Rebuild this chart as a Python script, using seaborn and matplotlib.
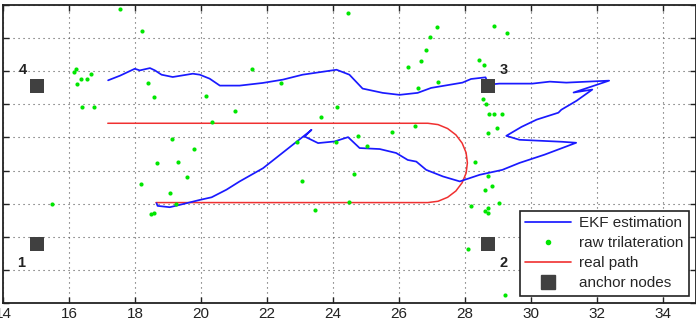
import numpy as np
import pandas as pd
import matplotlib
matplotlib.use("Agg")
import matplotlib.pyplot as plt
import seaborn as sns
from matplotlib.lines import Line2D

# ---------------- data ----------------
ekf_x = [18.65, 18.68, 19.05, 19.35, 19.96, 20.32, 20.77, 21.17, 21.88, 23.29,
         23.35, 23.14, 23.55, 24.05, 24.46, 24.81, 25.42, 25.92, 26.27, 26.53,
         26.83, 27.34, 27.85, 28.45, 29.14, 29.66, 30.42, 31.38, 30.95, 29.66,
         29.26, 29.72, 30.18, 30.84, 30.93, 31.39, 31.87, 31.30, 32.38, 31.08,
         30.58, 30.05, 29.05, 28.72, 28.63, 28.19, 27.93, 26.98, 26.57, 26.02,
         25.51, 24.90, 24.50, 24.11, 23.08, 22.48, 21.87, 21.17, 20.57, 20.26,
         19.96, 19.75, 19.14, 18.80, 18.60, 18.45, 18.14, 17.99, 17.54, 17.18]
ekf_y = [3.01, 2.93, 2.89, 2.96, 3.11, 3.19, 3.42, 3.67, 4.07, 5.18,
         5.23, 5.03, 4.83, 4.88, 5.01, 4.68, 4.65, 4.53, 4.32, 4.27,
         4.02, 3.82, 3.67, 3.87, 4.02, 4.23, 4.48, 4.84, 4.87, 4.93,
         5.05, 5.32, 5.54, 5.75, 5.84, 6.11, 6.45, 6.36, 6.72, 6.66,
         6.69, 6.63, 6.63, 6.60, 6.82, 6.77, 6.66, 6.50, 6.35, 6.29,
         6.35, 6.48, 6.90, 7.05, 6.90, 6.75, 6.65, 6.57, 6.57, 6.78,
         6.90, 6.93, 6.83, 6.90, 7.03, 7.10, 7.03, 7.08, 6.87, 6.73]

raw_x = [17.54, 18.20, 16.22, 16.15, 16.66, 16.35, 16.53, 16.25, 18.38, 18.57,
         20.14, 16.39, 16.75, 21.02, 20.32, 19.11, 19.78, 18.66, 19.29, 19.57,
         18.19, 19.07, 19.23, 18.48, 18.57, 15.48, 24.45, 21.54, 22.42, 24.11,
         23.65, 26.50, 25.78, 24.75, 25.02, 22.90, 24.10, 23.07, 24.63, 24.48,
         23.45, 27.16, 26.96, 26.81, 26.68, 26.29, 26.57, 27.20, 28.90, 29.28,
         28.42, 28.57, 28.54, 28.63, 28.75, 28.90, 29.14, 28.99, 28.69, 28.32,
         28.72, 28.84, 28.60, 29.05, 28.20, 28.72, 28.60, 28.72, 28.11, 29.23]
raw_y = [8.90, 8.23, 7.08, 6.99, 6.92, 6.78, 6.76, 6.63, 6.66, 6.22,
         6.26, 5.92, 5.92, 5.81, 5.48, 4.96, 4.66, 4.23, 4.26, 3.81,
         3.60, 3.32, 2.99, 2.69, 2.72, 2.98, 8.78, 7.08, 6.66, 5.93,
         5.63, 5.36, 5.17, 5.05, 4.75, 4.85, 4.87, 3.69, 3.88, 3.05,
         2.81, 8.35, 8.03, 7.66, 7.32, 7.12, 6.51, 6.67, 8.36, 8.16,
         7.35, 7.18, 6.17, 6.02, 5.72, 5.72, 5.72, 5.29, 5.14, 4.26,
         3.84, 3.54, 3.42, 3.02, 2.93, 2.87, 2.78, 2.72, 1.63, 0.23]

# real path: along the bottom, around the right end, back along the top
real_x = [18.63, 26.88, 27.19, 27.48, 27.73, 27.92, 28.04, 28.08, 28.04, 27.92,
          27.73, 27.48, 27.19, 26.88, 17.17]
real_y = [3.03, 3.03, 3.07, 3.19, 3.38, 3.63, 3.92, 4.23, 4.54, 4.83,
          5.08, 5.27, 5.39, 5.43, 5.43]

anchor_x = [15.01, 28.69, 28.69, 15.01]
anchor_y = [1.77, 1.77, 6.57, 6.57]
anchor_labels = ["1", "2", "3", "4"]
label_x = [14.55, 29.19, 29.19, 14.6]
label_y = [1.2, 1.2, 7.05, 7.05]

legend_labels = ["EKF estimation", "raw trilateration", "real path", "anchor nodes"]
x_ticks = [14, 16, 18, 20, 22, 24, 26, 28, 30, 32, 34]

# ---------------- style ----------------
sns.set_theme(style="ticks")
plt.rcParams["font.family"] = ["Liberation Sans", "DejaVu Sans"]

BLUE = "#1a1aff"
GREEN = "#00e600"
RED = "#f03030"
GRAY = "#404040"

fig = plt.figure(figsize=(6.96, 3.18), dpi=100)
ax = fig.add_axes([3.3 / 696, (318 - 302.7) / 318, 692.2 / 696, 297.4 / 318])

ekf_df = pd.DataFrame({"x": ekf_x, "y": ekf_y})
real_df = pd.DataFrame({"x": real_x, "y": real_y})
raw_df = pd.DataFrame({"x": raw_x, "y": raw_y})
anc_df = pd.DataFrame({"x": anchor_x, "y": anchor_y})

sns.lineplot(data=real_df, x="x", y="y", sort=False, estimator=None,
             color=RED, linewidth=1.1, ax=ax, zorder=3)
sns.lineplot(data=ekf_df, x="x", y="y", sort=False, estimator=None,
             color=BLUE, linewidth=1.25, ax=ax, zorder=4)
sns.scatterplot(data=raw_df, x="x", y="y", color=GREEN, s=9, linewidth=0,
                ax=ax, zorder=5)
sns.scatterplot(data=anc_df, x="x", y="y", color=GRAY, marker="s", s=110,
                linewidth=0, ax=ax, zorder=6)

for lx, ly, t in zip(label_x, label_y, anchor_labels):
    ax.text(lx, ly, t, ha="center", va="center", fontsize=10.5,
            fontweight="bold", color="#222222")

ax.set_xlim(14, 35)
ax.set_ylim(0, 9)
ax.set_xticks(x_ticks)
ax.set_xticklabels([str(t) for t in x_ticks])
ax.set_yticks(range(0, 10))
ax.set_xlabel("")
ax.set_ylabel("")
ax.tick_params(direction="in", length=4, width=1, top=True, right=True,
               labelleft=False, labelsize=11, pad=3, colors="#222222")
ax.grid(True, linestyle=(0, (1, 3.5)), color="#555555", linewidth=0.8)
for s in ax.spines.values():
    s.set_linewidth(1.3)
    s.set_color("#222222")

handles = [
    Line2D([0], [0], color=BLUE, linewidth=1.25),
    Line2D([0], [0], color=GREEN, marker="o", linestyle="none", markersize=3),
    Line2D([0], [0], color=RED, linewidth=1.2),
    Line2D([0], [0], color=GRAY, marker="s", linestyle="none", markersize=10),
]
leg = ax.legend(handles, legend_labels, loc="lower right", fontsize=11,
                frameon=True, fancybox=False, framealpha=1, edgecolor="#222222",
                handlelength=3.0, handletextpad=0.5, labelspacing=0.4,
                borderaxespad=0.45, borderpad=0.35)
leg.get_frame().set_linewidth(1.2)

fig.savefig("out.png", dpi=100)
